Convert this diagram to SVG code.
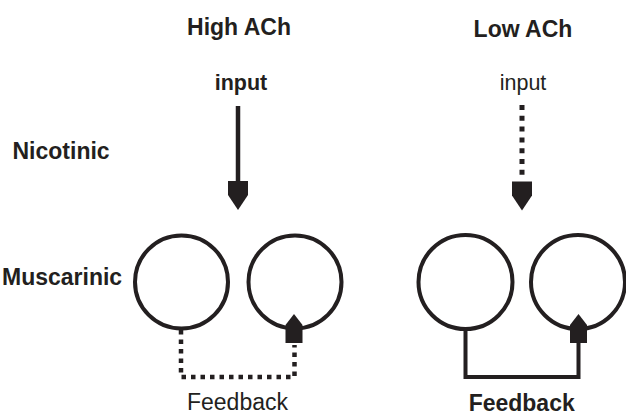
<svg xmlns="http://www.w3.org/2000/svg" width="626" height="415" viewBox="0 0 626 415">
  <style>
    text { font-family: "Liberation Sans", Arial, sans-serif; fill: #231f20; }
    .b { font-weight: bold; }
    .t { font-size: 23px; }
    .s { font-size: 21.5px; }
    .cell { fill: none; stroke: #231f20; stroke-width: 4; }
    .solid { fill: none; stroke: #231f20; stroke-width: 4.5; }
    .dot { fill: none; stroke: #231f20; stroke-width: 4.5; stroke-dasharray: 4.5 5; }
    .head { fill: #231f20; }
  </style>
  <defs>
    <path id="downHead" d="M-10,0 H10 V14 L0,29 L-10,14 Z"/>
    <path id="upHead" d="M-8.5,0 V-18 L0,-29 L8.5,-18 V0 Z"/>
  </defs>
  <rect width="626" height="415" fill="#ffffff"/>

  <g id="labels">
    <text class="b t" x="239" y="35" text-anchor="middle">High ACh</text>
    <text class="b t" x="523" y="37" text-anchor="middle">Low ACh</text>
    <text class="b t" x="12.5" y="159">Nicotinic</text>
    <text class="b t" x="2" y="285">Muscarinic</text>
  </g>

  <g id="high-input">
    <text class="b s" x="241" y="90" text-anchor="middle">input</text>
  </g>
  <g id="low-input">
    <text class="s" x="523" y="90" text-anchor="middle">input</text>
  </g>

  <g id="high-cell-1"><circle class="cell" cx="181.5" cy="282" r="46.5"/></g>
  <g id="high-cell-2"><circle class="cell" cx="295" cy="282" r="46.5"/></g>
  <g id="low-cell-1"><circle class="cell" cx="465.5" cy="282" r="47"/></g>
  <g id="low-cell-2"><circle class="cell" cx="578" cy="282" r="47"/></g>

  <g id="high-feedback-label">
    <text class="t" x="237.5" y="410" text-anchor="middle">Feedback</text>
  </g>
  <g id="low-feedback-label">
    <text class="b t" x="521.7" y="410.5" text-anchor="middle">Feedback</text>
  </g>

  <g id="connectors">
    <line class="solid" x1="238" y1="106" x2="238" y2="183"/>
    <use href="#downHead" class="head" transform="translate(238,181)"/>

    <line class="dot" style="stroke-width:5;stroke-dasharray:5 5.8" x1="522" y1="105" x2="522" y2="178"/>
    <use href="#downHead" class="head" transform="translate(522,181.5)"/>

    <path class="dot" d="M181,330 V377 H294.5 V345"/>
    <use href="#upHead" class="head" transform="translate(294,343)"/>

    <path class="solid" style="stroke-width:4" d="M465.5,330 V377 H578.5 V341"/>
    <use href="#upHead" class="head" transform="translate(578.5,343)"/>
  </g>
</svg>
